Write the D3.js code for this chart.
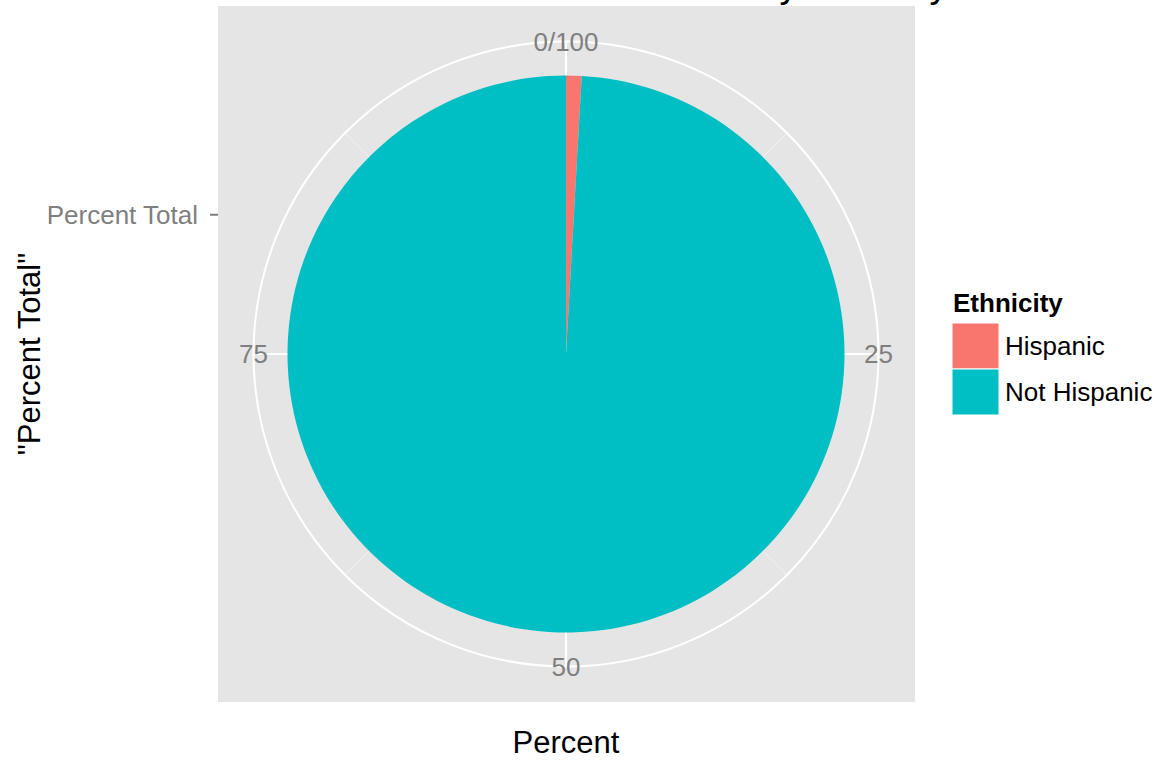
<!DOCTYPE html>
<html>
<head>
<meta charset="utf-8">
<script src="https://cdn.jsdelivr.net/npm/d3@7"></script>
<style>
  html, body { margin: 0; padding: 0; background: #ffffff; }
  svg { display: block; font-family: "Liberation Sans", Arial, Helvetica, sans-serif; }
</style>
</head>
<body>
<svg id="chart" width="1164" height="764"></svg>
<script>
// ---- data ----
const categories = ["Hispanic", "Not Hispanic"];
const values = [0.9, 99.1];
const colors = ["#F8766D", "#00BFC4"];
const thetaMajor = [0, 25, 50, 75];
const thetaMinor = [12.5, 37.5, 62.5, 87.5];
const thetaLabels = ["0/100", "25", "50", "75"];
const rCategories = ["Percent Total"];
const titleText = "Percent Total Student Enrollment by Ethnicity";
const xTitle = "Percent";
const yTitle = "\"Percent Total\"";
const legendTitle = "Ethnicity";

// ---- layout ----
const svg = d3.select("#chart");
const panel = { x: 218, y: 6, w: 697, h: 696 };
const cx = 566, cy = 354;
const pieR = 278.5, outerR = 312.5;
const small = 26;

svg.append("rect")
  .attr("x", panel.x).attr("y", panel.y)
  .attr("width", panel.w).attr("height", panel.h)
  .attr("fill", "#E5E5E5");

const theta = d3.scaleLinear().domain([0, 100]).range([0, 2 * Math.PI]);
// radial scale: discrete band mapped to [0, pieR]
const rScale = d3.scalePoint().domain(rCategories).range([0, pieR]).padding(0.5);

const g = svg.append("g").attr("transform", `translate(${cx},${cy})`);

// theta grid lines
g.selectAll("line.minor").data(thetaMinor).join("line")
  .attr("x1", 0).attr("y1", 0)
  .attr("x2", d => outerR * Math.sin(theta(d)))
  .attr("y2", d => -outerR * Math.cos(theta(d)))
  .attr("stroke", "#F2F2F2").attr("stroke-width", 1);
g.selectAll("line.major").data(thetaMajor).join("line")
  .attr("x1", 0).attr("y1", 0)
  .attr("x2", d => outerR * Math.sin(theta(d)))
  .attr("y2", d => -outerR * Math.cos(theta(d)))
  .attr("stroke", "#ffffff").attr("stroke-width", 2);
g.append("circle").attr("r", outerR)
  .attr("fill", "none").attr("stroke", "#ffffff").attr("stroke-width", 2);

// pie
const pie = d3.pie().sort(null).value(d => d.v)
  .startAngle(theta(0)).endAngle(theta(100));
const arc = d3.arc().innerRadius(0).outerRadius(pieR);
const slices = pie(categories.map((c, i) => ({ c, v: values[i], col: colors[i] })));
g.selectAll("path.slice").data(slices).join("path")
  .attr("d", arc)
  .attr("fill", d => d.data.col);

// theta labels
g.selectAll("text.tl").data(thetaMajor).join("text")
  .attr("x", d => outerR * Math.sin(theta(d)))
  .attr("y", d => -outerR * Math.cos(theta(d)))
  .attr("dy", "0.36em")
  .attr("text-anchor", "middle")
  .attr("font-size", small)
  .attr("fill", "#7F7F7F")
  .text((d, i) => thetaLabels[i]);

// y (radial) axis on the left of the panel
const yPos = d => cy - rScale(d);
svg.selectAll("line.ytick").data(rCategories).join("line")
  .attr("x1", panel.x - 8).attr("x2", panel.x)
  .attr("y1", yPos).attr("y2", yPos)
  .attr("stroke", "#7F7F7F").attr("stroke-width", 2);
svg.selectAll("text.ytl").data(rCategories).join("text")
  .attr("x", panel.x - 20).attr("y", yPos)
  .attr("dy", "0.36em")
  .attr("text-anchor", "end")
  .attr("font-size", small)
  .attr("fill", "#7F7F7F")
  .text(d => d);

// axis titles
svg.append("text")
  .attr("x", cx).attr("y", 753)
  .attr("text-anchor", "middle")
  .attr("font-size", 31)
  .attr("fill", "#000")
  .text(xTitle);
svg.append("text")
  .attr("transform", `translate(40,${cy}) rotate(-90)`)
  .attr("text-anchor", "middle")
  .attr("font-size", 31)
  .attr("fill", "#000")
  .text(yTitle);

// title (mostly clipped above the page, as in the reference)
svg.append("text")
  .attr("x", 948).attr("y", -3)
  .attr("text-anchor", "end")
  .attr("font-size", 37)
  .attr("fill", "#000")
  .text(titleText);

// legend
const leg = svg.append("g");
leg.append("text")
  .attr("x", 953).attr("y", 312)
  .attr("font-size", small).attr("font-weight", "bold")
  .attr("fill", "#000")
  .text(legendTitle);
const keyY = d3.scaleBand().domain(categories).range([323, 415]);
leg.selectAll("rect.key").data(categories).join("rect")
  .attr("x", 952).attr("y", d => keyY(d))
  .attr("width", 47).attr("height", keyY.bandwidth())
  .attr("fill", (d, i) => colors[i])
  .attr("stroke", "#ffffff").attr("stroke-width", 1);
leg.selectAll("text.lab").data(categories).join("text")
  .attr("x", 1005).attr("y", d => keyY(d) + keyY.bandwidth() / 2)
  .attr("dy", "0.36em")
  .attr("font-size", small)
  .attr("fill", "#000")
  .text(d => d);
</script>
</body>
</html>
